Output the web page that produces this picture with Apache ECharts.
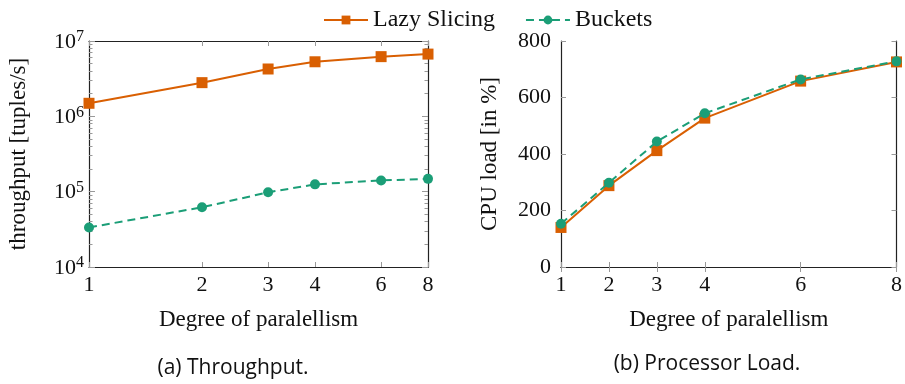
<!DOCTYPE html>
<html><head><meta charset="utf-8">
<script src="https://cdn.jsdelivr.net/npm/echarts@6/dist/echarts.min.js"></script>
<style>html,body{margin:0;padding:0;background:#fff}#c{width:905px;height:384px}</style>
</head><body><div id="c"></div>
<script>
var xVals = [1, 2, 3, 4, 6, 8];
var lazyThroughput = [1.49e6, 2.8e6, 4.25e6, 5.3e6, 6.2e6, 6.7e6];
var bucketsThroughput = [3.35e4, 6.2e4, 9.8e4, 1.25e5, 1.41e5, 1.48e5];
var lazyCpu = [140, 288, 412, 527, 658, 726];
var bucketsCpu = [153, 298, 444, 544, 664, 728];
var xTickLabels = [1, 2, 3, 4, 6, 8];
var yMajorLog = [1e4, 1e5, 1e6, 1e7];
var minorMult = [2, 3, 4, 5, 6, 7, 8, 9];
var minorDecades = [1e4, 1e5, 1e6];
var cpuTicks = [0, 200, 400, 600, 800];

var yMinorLog = [];
minorDecades.forEach(function (d) { minorMult.forEach(function (m) { yMinorLog.push(m * d); }); });

var ORANGE = '#d95f02', GREEN = '#1b9e77';
var SERIF = 'Liberation Serif';
var FS = 22;
var NFS = 23;
var frame = { show: true, lineStyle: { color: '#222', width: 1.2 } };
var tickStyle = { color: '#999', width: 1 };

function pair(xs, ys) { return xs.map(function (x, i) { return [x, ys[i]]; }); }

function xAx(grid, type, pos, labels) {
  var a = {
    gridIndex: grid, type: type, position: pos, min: 1, max: 8,
    axisLine: frame,
    axisTick: { show: true, inside: true, length: 5, lineStyle: tickStyle, customValues: xTickLabels },
    axisLabel: { show: labels, customValues: xTickLabels, fontFamily: SERIF, fontSize: FS, color: '#111', margin: 7 },
    splitLine: { show: false }
  };
  if (type === 'log') a.logBase = 2;
  if (labels) {
    a.name = 'Degree of paralellism';
    a.nameLocation = 'middle';
    a.nameGap = 41;
    a.nameTextStyle = { fontFamily: SERIF, fontSize: NFS, color: '#111' };
  }
  return a;
}

function logY(pos, vals, len, labels, line) {
  var a = {
    gridIndex: 0, type: 'log', logBase: 10, min: 1e4, max: 1e7, position: pos, offset: 0,
    axisLine: line ? frame : { show: false },
    axisTick: { show: true, inside: true, length: len, lineStyle: tickStyle, customValues: vals },
    axisLabel: { show: labels, customValues: yMajorLog, margin: 5, color: '#111',
      formatter: function (v) { return '{b|10}{s|' + Math.round(Math.log10(v)) + '}'; },
      rich: { b: { fontFamily: SERIF, fontSize: FS, color: '#111', verticalAlign: 'bottom', lineHeight: 24 },
              s: { fontFamily: SERIF, fontSize: 16, color: '#111', verticalAlign: 'top', lineHeight: 24, padding: [0, 0, 9, 0] } } },
    splitLine: { show: false }, minorTick: { show: false }
  };
  if (labels) {
    a.name = 'throughput [tuples/s]';
    a.nameLocation = 'middle';
    a.nameGap = 59;
    a.nameTextStyle = { fontFamily: SERIF, fontSize: NFS, color: '#111' };
  }
  return a;
}

function cpuY(pos, labels) {
  var a = {
    gridIndex: 1, type: 'value', min: 0, max: 800, interval: 200, position: pos,
    axisLine: frame,
    axisTick: { show: true, inside: true, length: 5, lineStyle: tickStyle, customValues: cpuTicks },
    axisLabel: { show: labels, fontFamily: SERIF, fontSize: FS, color: '#111', margin: 10 },
    splitLine: { show: false }
  };
  if (labels) {
    a.name = 'CPU load [in %]';
    a.nameLocation = 'middle';
    a.nameGap = 60;
    a.nameTextStyle = { fontFamily: SERIF, fontSize: NFS, color: '#111' };
  }
  return a;
}

var lazyStyle = { type: 'line', name: 'Lazy Slicing', symbol: 'rect', symbolSize: 11,
  itemStyle: { color: ORANGE }, lineStyle: { color: ORANGE, width: 2 }, z: 3 };
var bucketStyle = { type: 'line', name: 'Buckets', symbol: 'circle', symbolSize: 10,
  itemStyle: { color: GREEN }, lineStyle: { color: GREEN, width: 2, type: [8, 5] }, z: 4 };

var option = {
  animation: false,
  backgroundColor: '#fff',
  textStyle: { fontFamily: SERIF },
  legend: {
    top: 3, left: 318, itemWidth: 44, itemHeight: 11, itemGap: 30,
    textStyle: { fontFamily: SERIF, fontSize: NFS + 1, color: '#111' },
    data: ['Lazy Slicing', 'Buckets']
  },
  grid: [
    { left: 89, top: 41, width: 339, height: 226, containLabel: false },
    { left: 561, top: 41, width: 341, height: 226, containLabel: false }
  ],
  xAxis: [
    xAx(0, 'log', 'bottom', true),
    xAx(0, 'log', 'top', false),
    xAx(1, 'value', 'bottom', true),
    xAx(1, 'value', 'top', false)
  ],
  yAxis: [
    logY('left', yMajorLog, 6, true, true),
    logY('left', yMinorLog, 3.5, false, false),
    logY('right', yMajorLog, 6, false, true),
    logY('right', yMinorLog, 3.5, false, false),
    cpuY('left', true),
    cpuY('right', false)
  ],
  series: [
    Object.assign({}, lazyStyle, { xAxisIndex: 0, yAxisIndex: 0, data: pair(xVals, lazyThroughput) }),
    Object.assign({}, bucketStyle, { xAxisIndex: 0, yAxisIndex: 0, data: pair(xVals, bucketsThroughput) }),
    Object.assign({}, lazyStyle, { xAxisIndex: 2, yAxisIndex: 4, data: pair(xVals, lazyCpu) }),
    Object.assign({}, bucketStyle, { xAxisIndex: 2, yAxisIndex: 4, data: pair(xVals, bucketsCpu) })
  ],
  graphic: [
    { type: 'text', x: 233, y: 368, style: { text: '(a) Throughput.', font: '21px "Open Sans"', fill: '#111', textAlign: 'center', textVerticalAlign: 'middle' } },
    { type: 'text', x: 707, y: 364, style: { text: '(b) Processor Load.', font: '21px "Open Sans"', fill: '#111', textAlign: 'center', textVerticalAlign: 'middle' } }
  ]
};
var chart = echarts.init(document.getElementById('c'), null, { renderer: 'canvas' });
chart.setOption(option);
</script></body></html>
